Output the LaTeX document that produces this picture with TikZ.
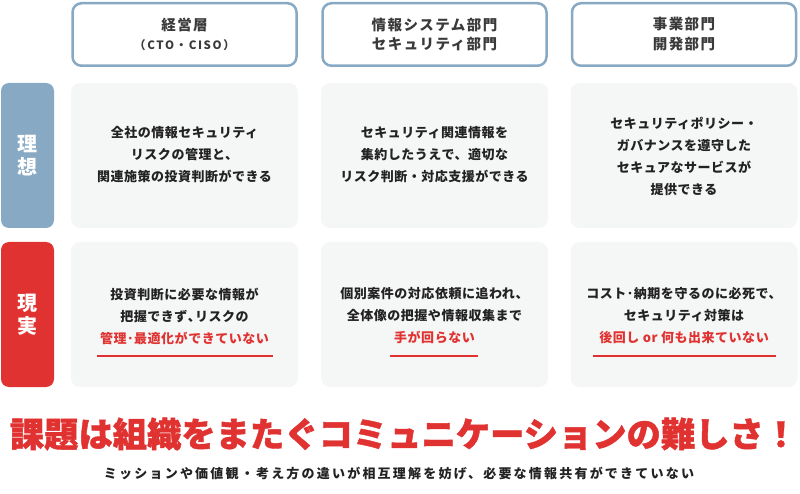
\documentclass[tikz,border=0pt]{standalone}
\usepackage{fontspec}
\setmainfont{Noto Sans CJK JP}
\newfontfamily\hdfont[LetterSpace=10]{Noto Sans CJK JP}
\newfontfamily\smfont[LetterSpace=14]{Noto Sans CJK JP}
\newfontfamily\cellfont[LetterSpace=4]{Noto Sans CJK JP}
\newfontfamily\subfont[LetterSpace=17]{Noto Sans CJK JP}
\newfontfamily\labfont{Noto Sans CJK JP}
\newfontfamily\titlefont[FakeBold=1.2]{Noto Sans CJK JP}
\definecolor{blu}{HTML}{88A9C4}
\definecolor{rd}{HTML}{E03331}
\definecolor{cellbg}{HTML}{F5F6F6}
\definecolor{ink}{HTML}{222222}
\definecolor{hdink}{HTML}{3A3A3A}
\begin{document}
\begin{tikzpicture}[x=1pt,y=-1pt,
  hdr/.style={draw=blu, line width=2.5pt, rounded corners=9pt, minimum width=224pt, minimum height=62.5pt, inner sep=0pt, align=center, text=hdink, font=\hdfont\bfseries\fontsize{14.5}{20}\selectfont},
  cell/.style={fill=cellbg, rounded corners=9pt, minimum width=227pt, minimum height=145pt, inner sep=0pt},
  lab/.style={rounded corners=8pt, minimum width=53pt, minimum height=145pt, inner sep=0pt, text=white, align=center, font=\labfont\bfseries\fontsize{20}{23}\selectfont},
  txt/.style={align=center, inner sep=0pt, text=ink, font=\cellfont\bfseries\fontsize{13}{22}\selectfont},
  uline/.style={draw=rd, line width=2pt},
]
\useasboundingbox (0,0) rectangle (800,494);
% headers
\node[hdr] (h1) at (184.5,34.5) {経営層\\[-1pt]{\smfont\fontsize{11.5}{14}\selectfont （CTO・CISO）}};
\node[hdr] (h2) at (434.5,34.5) {情報システム部門\\セキュリティ部門};
\node[hdr] (h3) at (684,34.5) {事業部門\\開発部門};
% row labels
\node[lab, fill=blu] (l1) at (27.5,155.5) {理\\想};
\node[lab, fill=rd] (l2) at (27.5,314.5) {現\\実};
% cells
\node[cell] (c11) at (184.5,155.5) {};
\node[cell] (c12) at (434.5,155.5) {};
\node[cell] (c13) at (684,155.5) {};
\node[cell] (c21) at (184.5,314.5) {};
\node[cell] (c22) at (434.5,314.5) {};
\node[cell] (c23) at (684,314.5) {};
% texts row 1
\node[txt] (t11) at (184.5,155) {全社の情報セキュリティ\\リスクの管理と、\\関連施策の投資判断ができる};
\node[txt] (t12) at (434.5,155) {セキュリティ関連情報を\\集約したうえで、適切な\\リスク判断・対応支援ができる};
\node[txt] (t13) at (684,156.5) {セキュリティポリシー・\\ガバナンスを遵守した\\セキュアなサービスが\\提供できる};
% texts row 2
\node[txt] (t21) at (184.5,316) {投資判断に必要な情報が\\把握できず､リスクの\\{\color{rd}管理･最適化ができていない}};
\node[txt] (t22) at (434.5,316) {個別案件の対応依頼に追われ、\\全体像の把握や情報収集まで\\{\color{rd}手が回らない}};
\node[txt] (t23) at (684,316) {コスト･納期を守るのに必死で、\\セキュリティ対策は\\{\color{rd}後回し or 何も出来ていない}};
% underlines
\draw[uline] (97,356) -- (273,356);
\draw[uline] (390,356) -- (478,356);
\draw[uline] (593,356) -- (776,356);
% title
\node[inner sep=0pt, text=rd, font=\titlefont\bfseries\fontsize{34.3}{40}\selectfont] (title) at (404,434) {課題は組織をまたぐコミュニケーションの難しさ！};
\node[inner sep=0pt, text=ink, font=\subfont\bfseries\fontsize{13}{16}\selectfont] (sub) at (399,473) {ミッションや価値観・考え方の違いが相互理解を妨げ、必要な情報共有ができていない};
\end{tikzpicture}
\end{document}
